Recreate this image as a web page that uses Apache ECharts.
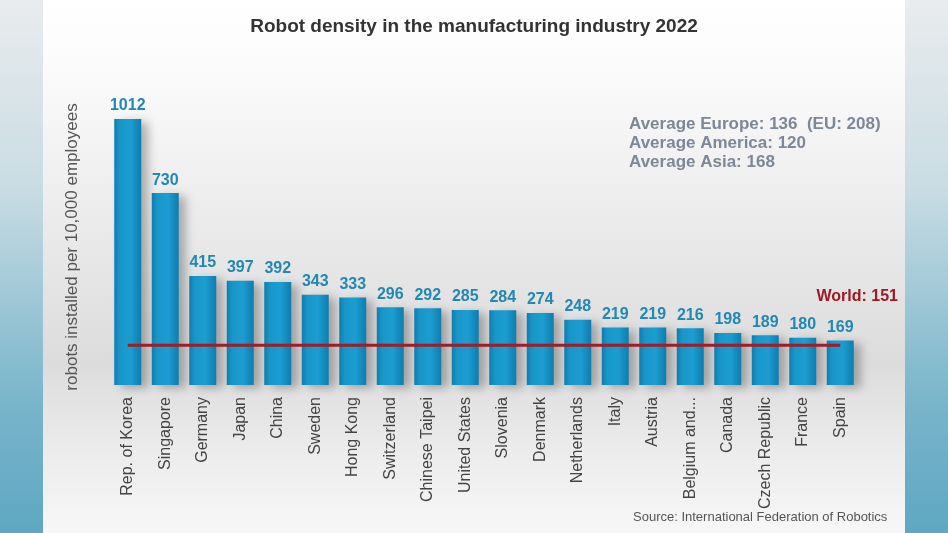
<!DOCTYPE html>
<html>
<head>
<meta charset="utf-8">
<script src="https://cdn.jsdelivr.net/npm/echarts@6/dist/echarts.min.js"></script>
<style>html,body{margin:0;padding:0;background:#fff}#c{width:948px;height:533px}</style>
</head>
<body>
<div id="c"></div>
<script>
const categories = ["Rep. of Korea","Singapore","Germany","Japan","China","Sweden","Hong Kong","Switzerland","Chinese Taipei","United States","Slovenia","Denmark","Netherlands","Italy","Austria","Belgium and...","Canada","Czech Republic","France","Spain"];
const density = [1012,730,415,397,392,343,333,296,292,285,284,274,248,219,219,216,198,189,180,169];
const worldAverage = 151;
const regionNotes = ["Average Europe: 136  (EU: 208)","Average America: 120","Average Asia: 168"];
const titleText = "Robot density in the manufacturing industry 2022";
const yName = "robots installed per 10,000 employees";
const sourceText = "Source: International Federation of Robotics";

const FONT = '"Liberation Sans", Arial, sans-serif';
const chart = echarts.init(document.getElementById('c'));
const stripGrad = new echarts.graphic.LinearGradient(0,0,0,1,[
  {offset:0,color:'#e9ecee'},{offset:0.35,color:'#c9dce3'},{offset:0.75,color:'#79b5cb'},{offset:1,color:'#5fa7c2'}]);
chart.setOption({
  backgroundColor: '#ffffff',
  animation: false,
  title: {
    text: titleText, left: 'center', top: 12,
    textStyle: {fontFamily: FONT, fontSize: 19, fontWeight: 'bold', color: '#333333'}
  },
  graphic: [
    {type:'rect', z:-10, silent:true, shape:{x:43,y:0,width:862,height:533},
     style:{fill:new echarts.graphic.LinearGradient(0,0,0,1,[
       {offset:0,color:'#ffffff'},{offset:0.15,color:'#fafafa'},{offset:0.45,color:'#e9e9e9'},
       {offset:0.68,color:'#dcdcdc'},{offset:0.85,color:'#ececec'},{offset:1,color:'#f7f7f7'}])}},
    {type:'rect', z:-10, silent:true, shape:{x:0,y:0,width:43,height:533}, style:{fill:stripGrad}},
    {type:'rect', z:-10, silent:true, shape:{x:905,y:0,width:43,height:533}, style:{fill:stripGrad}},
    {type:'text', left:629, top:115, silent:true,
     style:{text: regionNotes.join('\n'), font:'bold 17px ' + FONT, fill:'#7d8797', lineHeight:19}},
    {type:'text', right:50, top:289, silent:true,
     style:{text: 'World: ' + worldAverage, font:'bold 16px ' + FONT, fill:'#9b1a22'}},
    {type:'text', left:633, top:511, silent:true,
     style:{text: sourceText, font:'13px ' + FONT, fill:'#555555'}}
  ],
  grid: {left: 109, right: 89, top: 109, bottom: 148},
  xAxis: {
    type: 'category', data: categories,
    axisLine: {show: false}, axisTick: {show: false},
    axisLabel: {rotate: 90, interval: 0, margin: 12, fontFamily: FONT, fontSize: 16, color: '#444444'}
  },
  yAxis: {
    type: 'value', min: 0, max: 1050,
    name: yName, nameLocation: 'middle', nameGap: 28, nameRotate: 90,
    nameTextStyle: {fontFamily: FONT, fontSize: 17, color: '#555555'},
    axisLine: {show: false}, axisTick: {show: false}, axisLabel: {show: false}, splitLine: {show: false}
  },
  series: [
    {
      type: 'bar', data: density, barWidth: 27,
      itemStyle: {
        color: new echarts.graphic.LinearGradient(0,0,1,0,[
          {offset:0,color:'#0f7cae'},{offset:0.2,color:'#1896c9'},{offset:0.6,color:'#1c9dd1'},{offset:1,color:'#0f7cae'}]),
        shadowColor: 'rgba(0,0,0,0.28)', shadowBlur: 10, shadowOffsetX: 7, shadowOffsetY: 3
      },
      label: {show: true, position: 'top', distance: 5, fontFamily: FONT, fontSize: 16, fontWeight: 'bold', color: '#2088b3'}
    },
    {
      type: 'line', data: categories.map(() => worldAverage), symbol: 'none', z: 5,
      lineStyle: {color: '#a31b24', width: 3}
    }
  ]
});
</script>
</body>
</html>
